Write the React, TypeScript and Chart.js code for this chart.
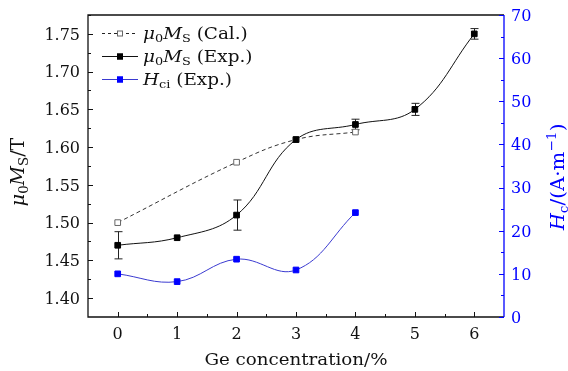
import React, { useEffect, useRef } from 'react';
import { Chart, registerables } from 'chart.js';
Chart.register(...registerables);

// ---- data ----
const geConc = [0, 1, 2, 3, 4, 5, 6];
const msExp = [1.47, 1.48, 1.51, 1.61, 1.63, 1.65, 1.75];
const msExpErr = [0.018, 0, 0.02, 0, 0.007, 0.008, 0.007];
const calConc = [0, 2, 3, 4];
const msCal = [1.5, 1.58, 1.61, 1.62];
const hciConc = [0, 1, 2, 3, 4];
const hciExp = [10.0, 8.2, 13.4, 10.9, 24.2];

const xTicks = [0, 1, 2, 3, 4, 5, 6];
const xMinor = [0.5, 1.5, 2.5, 3.5, 4.5, 5.5];
const leftTicks = ['1.40', '1.45', '1.50', '1.55', '1.60', '1.65', '1.70', '1.75'];
const leftMinor = [1.425, 1.475, 1.525, 1.575, 1.625, 1.675, 1.725, 1.775];
const rightTicks = [0, 10, 20, 30, 40, 50, 60, 70];
const rightMinor = [5, 15, 25, 35, 45, 55, 65];

const BLUE = '#0000ff';
const FONT = '"DejaVu Serif"';

type Part = { t: string; it?: boolean; sub?: boolean; sup?: boolean };

function fnt(size: number, it?: boolean) {
  return `${it ? 'italic ' : ''}${size}px ${FONT}`;
}
function partSize(p: Part, size: number) {
  return p.sub || p.sup ? size * 0.7 : size;
}
function partsWidth(ctx: CanvasRenderingContext2D, parts: Part[], size: number) {
  let w = 0;
  for (const p of parts) {
    ctx.font = fnt(partSize(p, size), p.it);
    w += ctx.measureText(p.t).width;
  }
  return w;
}
function drawRich(
  ctx: CanvasRenderingContext2D,
  parts: Part[],
  x: number,
  y: number,
  size: number,
  align: 'left' | 'center' | 'right',
  color: string,
  sx = 1,
  rot = 0
) {
  ctx.save();
  ctx.translate(x, y);
  if (rot) ctx.rotate(rot);
  ctx.scale(sx, 1);
  ctx.fillStyle = color;
  ctx.textAlign = 'left';
  ctx.textBaseline = 'alphabetic';
  const w = partsWidth(ctx, parts, size);
  let cx = align === 'center' ? -w / 2 : align === 'right' ? -w : 0;
  for (const p of parts) {
    ctx.font = fnt(partSize(p, size), p.it);
    const dy = p.sub ? size * 0.22 : p.sup ? -size * 0.4 : 0;
    ctx.fillText(p.t, cx, dy);
    cx += ctx.measureText(p.t).width;
  }
  ctx.restore();
}

const msParts: Part[] = [
  { t: 'μ', it: true },
  { t: '0', sub: true },
  { t: 'M', it: true },
  { t: 'S', sub: true },
];

const errorBars = {
  id: 'errorBars',
  beforeDatasetsDraw(chart: any) {
    const ctx: CanvasRenderingContext2D = chart.ctx;
    const xs = chart.scales.x;
    const ys = chart.scales.y;
    ctx.save();
    ctx.strokeStyle = '#222';
    ctx.lineWidth = 1;
    geConc.forEach((g, i) => {
      const e = msExpErr[i];
      if (!e) return;
      const px = Math.round(xs.getPixelForValue(g)) + 0.5;
      const t = ys.getPixelForValue(msExp[i] + e);
      const b = ys.getPixelForValue(msExp[i] - e);
      ctx.beginPath();
      ctx.moveTo(px, t);
      ctx.lineTo(px, b);
      ctx.moveTo(px - 4, t);
      ctx.lineTo(px + 4, t);
      ctx.moveTo(px - 4, b);
      ctx.lineTo(px + 4, b);
      ctx.stroke();
    });
    ctx.restore();
  },
};

const axesPlugin = {
  id: 'axesDeco',
  afterDraw(chart: any) {
    const ctx: CanvasRenderingContext2D = chart.ctx;
    const { left, right, top, bottom } = chart.chartArea;
    const xs = chart.scales.x;
    const ys = chart.scales.y;
    const y1 = chart.scales.y1;
    ctx.save();
    ctx.lineWidth = 1.3;
    // frame
    ctx.strokeStyle = '#111';
    ctx.beginPath();
    ctx.moveTo(right, top);
    ctx.lineTo(left, top);
    ctx.lineTo(left, bottom);
    ctx.lineTo(right, bottom);
    ctx.stroke();
    ctx.strokeStyle = BLUE;
    ctx.beginPath();
    ctx.moveTo(right, top);
    ctx.lineTo(right, bottom);
    ctx.stroke();

    ctx.lineWidth = 1;
    // bottom ticks
    ctx.strokeStyle = '#111';
    ctx.beginPath();
    xTicks.forEach((v) => {
      const px = Math.round(xs.getPixelForValue(v)) + 0.5;
      ctx.moveTo(px, bottom);
      ctx.lineTo(px, bottom - 5);
    });
    xMinor.forEach((v) => {
      const px = Math.round(xs.getPixelForValue(v)) + 0.5;
      ctx.moveTo(px, bottom);
      ctx.lineTo(px, bottom - 3);
    });
    // left ticks
    leftTicks.forEach((s) => {
      const py = Math.round(ys.getPixelForValue(parseFloat(s))) + 0.5;
      ctx.moveTo(left, py);
      ctx.lineTo(left + 5, py);
    });
    leftMinor.forEach((v) => {
      const py = Math.round(ys.getPixelForValue(v)) + 0.5;
      ctx.moveTo(left, py);
      ctx.lineTo(left + 3, py);
    });
    ctx.stroke();
    // right ticks
    ctx.strokeStyle = BLUE;
    ctx.beginPath();
    rightTicks.forEach((v) => {
      const py = Math.round(y1.getPixelForValue(v)) + 0.5;
      ctx.moveTo(right, py);
      ctx.lineTo(right - 5, py);
    });
    rightMinor.forEach((v) => {
      const py = Math.round(y1.getPixelForValue(v)) + 0.5;
      ctx.moveTo(right, py);
      ctx.lineTo(right - 3, py);
    });
    ctx.stroke();

    // tick labels
    xTicks.forEach((v) => {
      drawRich(ctx, [{ t: String(v) }], xs.getPixelForValue(v), 339, 16, 'center', '#111');
    });
    leftTicks.forEach((s) => {
      drawRich(ctx, [{ t: s }], left - 8, ys.getPixelForValue(parseFloat(s)) + 5.8, 16, 'right', '#111');
    });
    rightTicks.forEach((v) => {
      drawRich(ctx, [{ t: String(v) }], right + 7, y1.getPixelForValue(v) + 5.8, 16, 'left', BLUE);
    });

    // axis titles
    drawRich(ctx, [{ t: 'Ge concentration/%' }], (left + right) / 2, 365, 16, 'center', '#111', 1.14);
    drawRich(ctx, [...msParts, { t: '/T' }], 24, 172, 19, 'center', '#111', 1, -Math.PI / 2);
    drawRich(
      ctx,
      [
        { t: 'H', it: true },
        { t: 'c', sub: true },
        { t: '/(A·m' },
        { t: '−1', sup: true },
        { t: ')' },
      ],
      564,
      177,
      19,
      'center',
      BLUE,
      1.04,
      -Math.PI / 2
    );

    // legend
    const rows = [
      { y: 33, color: '#222', dash: [3, 3], fill: '#fff', stroke: '#666', mc: '#666', parts: [...msParts, { t: ' (Cal.)' }], tc: '#111' },
      { y: 56, color: '#111', dash: [], fill: '#000', stroke: '#000', mc: '#000', parts: [...msParts, { t: ' (Exp.)' }], tc: '#111' },
      { y: 79, color: '#3a3ad0', dash: [], fill: BLUE, stroke: BLUE, mc: BLUE, parts: [{ t: 'H', it: true }, { t: 'ci', sub: true }, { t: ' (Exp.)' }], tc: '#111' },
    ];
    rows.forEach((r) => {
      ctx.save();
      ctx.strokeStyle = r.color;
      ctx.lineWidth = 1;
      ctx.setLineDash(r.dash);
      ctx.beginPath();
      ctx.moveTo(102, r.y + 0.5);
      ctx.lineTo(138, r.y + 0.5);
      ctx.stroke();
      ctx.setLineDash([]);
      ctx.fillStyle = r.fill;
      ctx.fillRect(117, r.y - 2.5, 6, 6);
      ctx.strokeStyle = r.stroke;
      ctx.strokeRect(117.5, r.y - 2, 5, 5);
      ctx.restore();
      drawRich(ctx, r.parts, 143, r.y + 5.5, 16, 'left', r.tc, 1.15);
    });
    ctx.restore();
  },
};

export default function App() {
  const ref = useRef<HTMLCanvasElement | null>(null);
  useEffect(() => {
    if (!ref.current) return;
    const chart = new Chart(ref.current, {
      type: 'line',
      data: {
        datasets: [
          {
            label: 'cal',
            data: calConc.map((x, i) => ({ x, y: msCal[i] })),
            yAxisID: 'y',
            borderColor: '#333',
            borderWidth: 1,
            borderDash: [4, 3],
            pointStyle: 'rect',
            pointRadius: 4,
            pointBackgroundColor: '#fff',
            pointBorderColor: '#666',
            pointBorderWidth: 1,
            tension: 0.4,
            order: 2,
          },
          {
            label: 'exp',
            data: geConc.map((x, i) => ({ x, y: msExp[i] })),
            yAxisID: 'y',
            borderColor: '#111',
            borderWidth: 1,
            pointStyle: 'rect',
            pointRadius: 4,
            pointBackgroundColor: '#000',
            pointBorderColor: '#000',
            pointBorderWidth: 1,
            tension: 0.4,
            order: 0,
          },
          {
            label: 'hci',
            data: hciConc.map((x, i) => ({ x, y: hciExp[i] })),
            yAxisID: 'y1',
            borderColor: '#3a3ad0',
            borderWidth: 1,
            pointStyle: 'rect',
            pointRadius: 4,
            pointBackgroundColor: BLUE,
            pointBorderColor: BLUE,
            pointBorderWidth: 1,
            tension: 0.4,
            order: 1,
          },
        ],
      },
      options: {
        animation: false,
        responsive: false,
        maintainAspectRatio: false,
        layout: { padding: { left: 88, right: 64, top: 15, bottom: 54 } },
        scales: {
          x: { type: 'linear', min: -0.5, max: 6.5, display: false },
          y: { type: 'linear', min: 1.375, max: 1.775, display: false },
          y1: { type: 'linear', min: 0, max: 70, display: false, position: 'right' },
        },
        plugins: { legend: { display: false }, tooltip: { enabled: false } },
      },
      plugins: [errorBars, axesPlugin],
    });
    return () => chart.destroy();
  }, []);
  return (
    <div style={{ position: 'fixed', left: 0, top: 0, width: 568, height: 371, background: '#fff' }}>
      <canvas ref={ref} width={568} height={371} style={{ width: 568, height: 371, display: 'block' }} />
    </div>
  );
}
